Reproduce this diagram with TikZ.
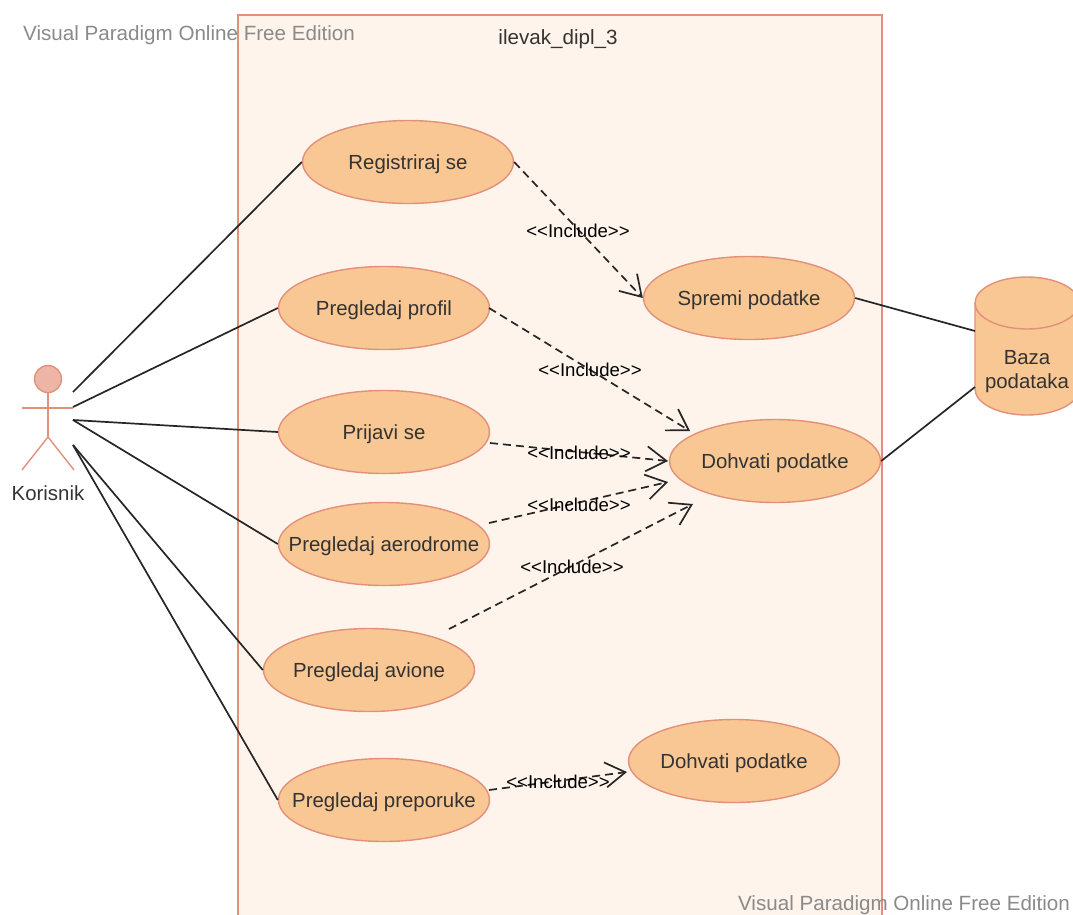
\documentclass[tikz,border=0pt]{standalone}
\usepackage{fontspec}
\setmainfont{Liberation Sans}
\usetikzlibrary{arrows.meta,shapes.geometric}
\definecolor{umlfill}{HTML}{F8C794}
\definecolor{umledge}{HTML}{E2907A}
\definecolor{umlback}{HTML}{FFF4EB}
\definecolor{umlhead}{HTML}{EDB5A6}
\definecolor{umltext}{HTML}{333333}
\definecolor{umlmark}{HTML}{8A8A8A}
\tikzset{
	usecase/.style={ellipse,draw=umledge,fill=umlfill,line width=1.4pt,minimum width=211pt,minimum height=83pt,inner xsep=-30pt,inner ysep=0pt,text height=18pt,text depth=3pt,text=umltext,font=\fontsize{20.4}{24}\selectfont},
	assoc/.style={draw=black!85,line width=1.7pt},
	incl/.style={draw=black!85,line width=1.7pt,dash pattern=on 8pt off 5pt,-{Straight Barb[length=20pt,width=25pt,line width=1.7pt]}},
	inclabel/.style={text=black,font=\fontsize{18.6}{22}\selectfont,inner sep=0pt},
	watermark/.style={text=umlmark,font=\fontsize{20.6}{24}\selectfont,inner sep=0pt},
	stick/.style={draw=umledge,line width=1.4pt}
}
\begin{document}
\begin{tikzpicture}[x=1pt,y=-1pt]
	\useasboundingbox (0,0) rectangle (1073,914);

	\node[draw=umledge,fill=umlback,line width=1.7pt,minimum width=644pt,minimum height=920pt,anchor=north west,inner sep=0pt] (sys) at (237,14) {};
	\node[inclabel,font=\fontsize{20.6}{24}\selectfont,text=umltext] (title) at (558,39) {ilevak\_dipl\_3};

	%actor
	\node[circle,draw=umledge,fill=umlhead,line width=1.4pt,minimum size=27pt,inner sep=0pt] (head) at (48,379) {};
	\coordinate (hip) at (48,437);
	\draw[stick] (head) -- (hip);
	\draw[stick] (22,408) -- (73,408);
	\draw[stick] (22,470) -- (hip) -- (74,470);
	\node[text=umltext,font=\fontsize{20.4}{24}\selectfont,inner sep=0pt] (actor) at (48,493) {Korisnik};

	\coordinate (a1) at (73,392);
	\coordinate (a2) at (73,407);
	\coordinate (a3) at (73,420);
	\coordinate (a4) at (73,445);

	\node[usecase] (reg) at (408,162) {Registriraj se};
	\node[usecase] (prof) at (384,308) {Pregledaj profil};
	\node[usecase] (prij) at (384,432) {Prijavi se};
	\node[usecase] (aero) at (384,544) {Pregledaj aerodrome};
	\node[usecase] (avio) at (369,670) {Pregledaj avione};
	\node[usecase] (prep) at (384,800) {Pregledaj preporuke};
	\node[usecase] (spr) at (749,298) {Spremi podatke};
	\node[usecase] (doh) at (775,461) {Dohvati podatke};
	\node[usecase] (doh2) at (734,761) {Dohvati podatke};

	%database
	\draw[draw=umledge,fill=umlfill,line width=1.4pt] (975,303) arc[start angle=180,end angle=0,x radius=52,y radius=-26] -- (1079,389) arc[start angle=0,end angle=180,x radius=52,y radius=26] -- cycle;
	\draw[draw=umledge,line width=1.4pt] (975,303) arc[start angle=180,end angle=360,x radius=52,y radius=-26];
	\node[text=umltext,align=center,font=\fontsize{20.4}{24}\selectfont,inner sep=0pt] (db) at (1027,372) {Baza\\podataka};
	\coordinate (d1) at (975,331);
	\coordinate (d2) at (975,387);

	\coordinate (p1) at (490,443);
	\coordinate (p2) at (668,461);
	\coordinate (q1) at (489,523);
	\coordinate (q2) at (668,482);
	\coordinate (r1) at (449,629);
	\coordinate (r2) at (693,504);
	\coordinate (s1) at (489,308);
	\coordinate (s2) at (690,431);
	\coordinate (t1) at (489,790);
	\coordinate (t2) at (627,772);

	\path (a1) edge [assoc] (reg.west)
	(a2) edge [assoc] (prof.west)
	(a3) edge [assoc] (prij.west)
	(a3) edge [assoc] (aero.west)
	(a4) edge [assoc] (avio.west)
	(a4) edge [assoc] (prep.west)
	(spr.east) edge [assoc] (d1)
	(doh.east) edge [assoc] (d2);

	\path (reg.east) edge [incl] (spr.west)
	(s1) edge [incl] (s2)
	(p1) edge [incl] (p2)
	(q1) edge [incl] (q2)
	(r1) edge [incl] (r2)
	(t1) edge [incl] (t2);

	\node[inclabel] (l1) at (578,231) {<{}<Include>{}>};
	\node[inclabel] (l2) at (590,370) {<{}<Include>{}>};
	\node[inclabel] (l3) at (579,453) {<{}<Include>{}>};
	\node[inclabel] (l4) at (579,505) {<{}<Include>{}>};
	\node[inclabel] (l5) at (572,567) {<{}<Include>{}>};
	\node[inclabel] (l6) at (558,782) {<{}<Include>{}>};

	\node[watermark,anchor=west] (w1) at (23,35) {Visual Paradigm Online Free Edition};
	\node[watermark,anchor=east] (w2) at (1070,905) {Visual Paradigm Online Free Edition};
\end{tikzpicture}
\end{document}
